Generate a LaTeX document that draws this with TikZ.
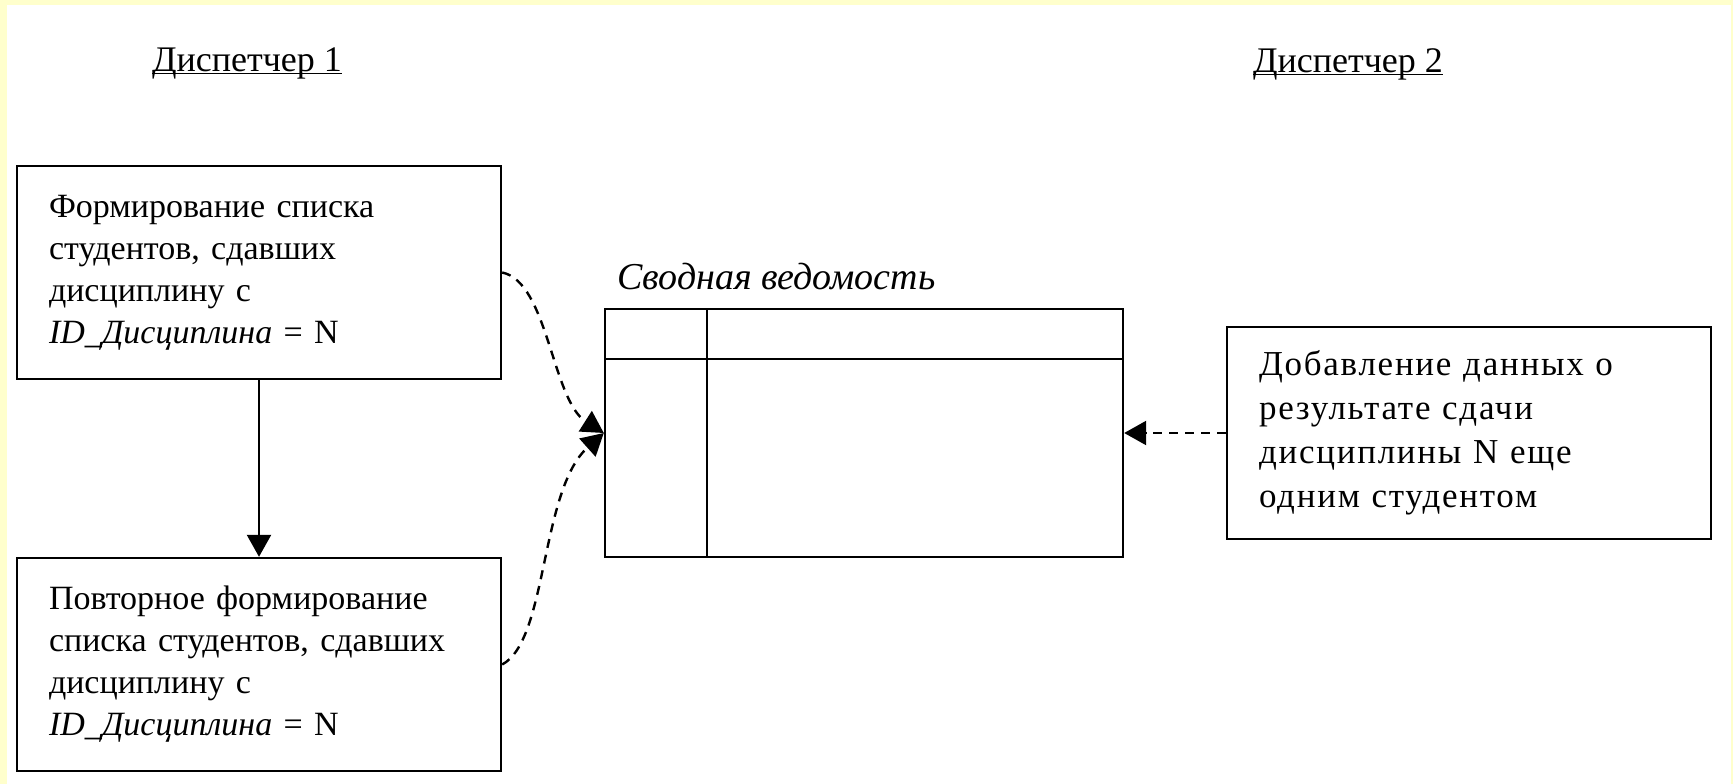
\documentclass[tikz,border=0pt]{standalone}
\usepackage{fontspec}
\setmainfont{Liberation Serif}
\usetikzlibrary{arrows.meta}
\definecolor{frame}{HTML}{FFFFCC}
\tikzset{
  box/.style={draw, line width=2.4pt, minimum width=484pt, minimum height=213pt,
    text width=420pt, align=left, inner xsep=32pt, inner ysep=0pt,
    font=\fontsize{34}{42}\selectfont},
  head/.style={anchor=base, inner sep=0pt, font=\fontsize{36}{42}\selectfont},
  tip/.style={-{Triangle[length=22pt,width=24pt]}},
  dashline/.style={line width=2.4pt, dash pattern=on 9pt off 7pt},
  solidline/.style={line width=2.4pt},
}
\begin{document}
\begin{tikzpicture}[x=1pt,y=-1pt]
\useasboundingbox (0,0) rectangle (1733,784);
\fill[frame] (0,0) rectangle (1733,784);
\fill[white] (7,5) rectangle (1731,784);

\node[head] (d1) at (247,72) {\underline{\smash{Диспетчер 1}}};
\node[head] (d2) at (1348,73) {\underline{\smash{Диспетчер 2}}};

\node[box] (b1) at (259,272.5) {Формирование списка\\студентов, сдавших\\дисциплину с\\\textit{ID\_Дисциплина} = N};
\node[box] (b2) at (259,664.5) {Повторное формирование\\списка студентов, сдавших\\дисциплину с\\\textit{ID\_Дисциплина} = N};
\node[box, minimum height=212pt, font=\fontsize{35}{44}\selectfont\addfontfeatures{LetterSpace=5}] (b3) at (1469,433) {Добавление данных о\\результате сдачи\\дисциплины N еще\\одним студентом};

% table
\node[draw, line width=2.4pt, minimum width=518pt, minimum height=248pt, inner sep=0pt] (tab) at (864,433) {};
\coordinate (hl) at (605,359);
\coordinate (hr) at (1123,359);
\coordinate (vt) at (707,309);
\coordinate (vb) at (707,557);
\draw[solidline] (hl) -- (hr);
\draw[solidline] (vt) -- (vb);
\node[anchor=base west, inner sep=0pt, font=\fontsize{38}{42}\selectfont\itshape] (title) at (617,289) {Сводная ведомость};

% connectors
\draw[solidline, tip] (b1.south) -- (b2.north);
\coordinate (meet) at (tab.west);
\draw[dashline, tip] (b1.east) .. controls (548,282) and (552,400) .. (meet);
\draw[dashline, tip] (b2.east) .. controls (548,640) and (540,490) .. (meet);
\draw[dashline, tip] (b3.west) -- (tab.east);
\end{tikzpicture}
\end{document}
